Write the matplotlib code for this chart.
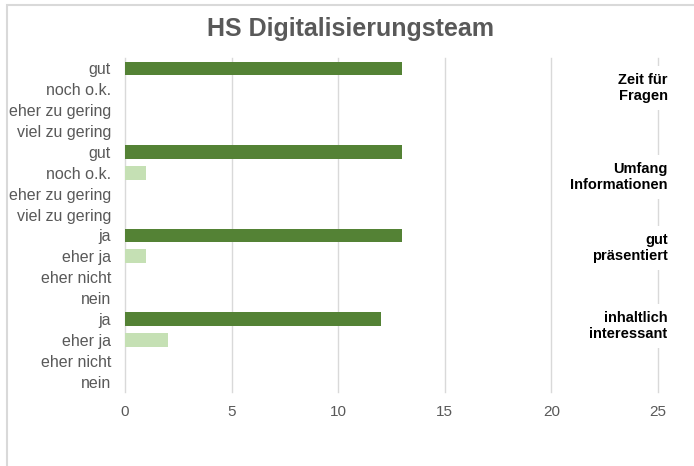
import matplotlib
matplotlib.use("Agg")
import matplotlib.pyplot as plt
from matplotlib.patches import Rectangle

plt.rcParams['font.family'] = ['Liberation Sans', 'DejaVu Sans']

title = "HS Digitalisierungsteam"
groups = ["Zeit für\nFragen", "Umfang\nInformationen", "gut\npräsentiert", "inhaltlich\ninteressant"]
labels_g1 = ["gut", "noch o.k.", "eher zu gering", "viel zu gering"]
labels_g2 = ["gut", "noch o.k.", "eher zu gering", "viel zu gering"]
labels_g3 = ["ja", "eher ja", "eher nicht", "nein"]
labels_g4 = ["ja", "eher ja", "eher nicht", "nein"]
values_g1 = [13, 0, 0, 0]
values_g2 = [13, 1, 0, 0]
values_g3 = [13, 1, 0, 0]
values_g4 = [12, 2, 0, 0]
xticks = [0, 5, 10, 15, 20, 25]

level_colors = ['#548235', '#C5E0B4', '#F4B183', '#C55A11']
label_offsets = [-0.55, -0.3, -0.9, -1.15]

row_labels = labels_g1 + labels_g2 + labels_g3 + labels_g4
row_values = values_g1 + values_g2 + values_g3 + values_g4
row_colors = level_colors * 4
n = len(row_labels)
ypos = list(range(n))

fig = plt.figure(figsize=(6.94, 4.66), dpi=100)
ax = fig.add_axes([125/694, 1 - 392/466, (658 - 125)/694, (392 - 58)/466])

ax.barh(ypos, row_values, height=0.66, color=row_colors, zorder=3)
ax.set_ylim(n - 0.5, -0.5)
ax.set_xlim(0, 25)
ax.set_xticks(xticks)
ax.set_yticks(ypos)
ax.set_yticklabels(row_labels)
ax.tick_params(axis='both', length=0, colors='#595959')
ax.tick_params(axis='y', pad=10, labelsize=11.5)
ax.tick_params(axis='x', pad=9, labelsize=11)
ax.grid(axis='x', color='#D9D9D9', linewidth=1.0, zorder=0)
ax.set_axisbelow(True)
for gl in ax.get_xgridlines():
    gl.set_clip_on(False)
for s in ax.spines.values():
    s.set_visible(False)

for i, g in enumerate(groups):
    yc = i * 4 + 1.5 + label_offsets[i]
    ax.text(25.45, yc, g, ha='right', va='center', fontsize=10.5, fontweight='bold',
            color='black', linespacing=1.15, zorder=5, clip_on=False,
            bbox=dict(facecolor='white', edgecolor='none', pad=5))

fig.text(0.505, 1 - 36/466, title, ha='center', va='baseline', fontsize=18,
         fontweight='bold', color='#595959')

fig.patches.append(Rectangle((6.5/694, -0.1), 1.2, 1 - 5.5/466 + 0.1,
                             transform=fig.transFigure, fill=False,
                             edgecolor='#D9D9D9', linewidth=1.5))

fig.savefig("out.png", dpi=100)
